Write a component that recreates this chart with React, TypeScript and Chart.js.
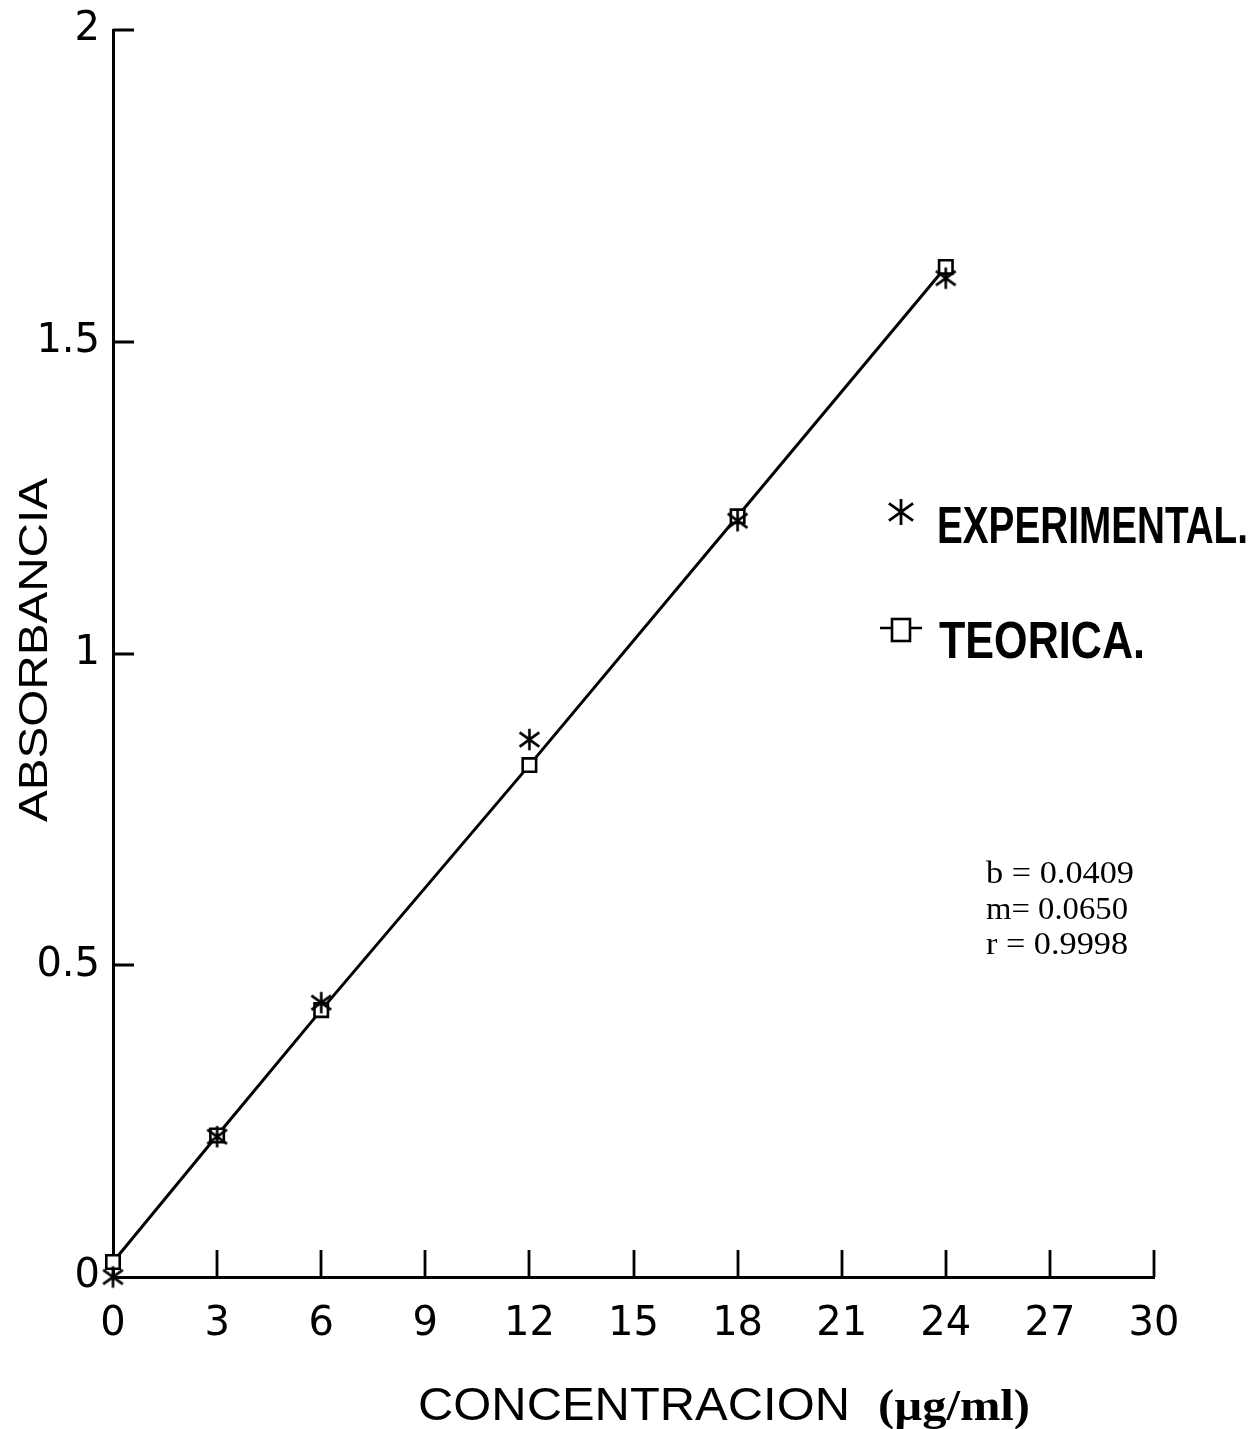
import { useEffect, useRef } from "react";
import { Chart, registerables } from "chart.js";

Chart.register(...registerables);

// ---- data ----
const concentrations = [0, 3, 6, 12, 18, 24];
const experimental = [0, 0.225, 0.44, 0.862, 1.213, 1.602];
const teorica = [0.024, 0.227, 0.428, 0.821, 1.22, 1.62];
const xRange = [0, 30];
const xStep = 3;
const yRange = [0, 2];
const yStep = 0.5;
const legendLabels = ["EXPERIMENTAL.", "TEORICA."];
const regressionText = ["b = 0.0409", "m= 0.0650", "r = 0.9998"];
const xTitleMain = "CONCENTRACION";
const xTitleUnit = "(µg/ml)";
const yTitle = "ABSORBANCIA";

function makeAsterisk(size: number, lw: number): HTMLCanvasElement {
  const c = document.createElement("canvas");
  c.width = size;
  c.height = size;
  const ctx = c.getContext("2d")!;
  ctx.strokeStyle = "#000";
  ctx.lineWidth = lw;
  const m = lw / 2 + 0.5;
  const h = size / 2;
  ctx.beginPath();
  ctx.moveTo(h, m);
  ctx.lineTo(h, size - m);
  const d = (h - m) * 0.92;
  ctx.moveTo(h - d, h - d * 0.72);
  ctx.lineTo(h + d, h + d * 0.72);
  ctx.moveTo(h + d, h - d * 0.72);
  ctx.lineTo(h - d, h + d * 0.72);
  ctx.stroke();
  return c;
}

function fitText(
  ctx: CanvasRenderingContext2D,
  text: string,
  x: number,
  y: number,
  font: string,
  width: number
) {
  ctx.save();
  ctx.font = font;
  ctx.textAlign = "left";
  ctx.textBaseline = "alphabetic";
  const w = ctx.measureText(text).width;
  ctx.translate(x, y);
  ctx.scale(width / w, 1);
  ctx.fillStyle = "#000";
  ctx.fillText(text, 0, 0);
  ctx.restore();
}

const decorPlugin = {
  id: "decor",
  afterDraw(chart: any) {
    const ctx: CanvasRenderingContext2D = chart.ctx;
    const { left, bottom } = chart.chartArea;
    const xs = chart.scales.x;
    const ys = chart.scales.y;
    ctx.save();
    ctx.strokeStyle = "#000";
    ctx.lineWidth = 2.8;
    ctx.beginPath();
    // inward ticks
    for (let v = xRange[0] + xStep; v <= xRange[1] + 1e-9; v += xStep) {
      const px = Math.round(xs.getPixelForValue(v));
      ctx.moveTo(px, bottom);
      ctx.lineTo(px, bottom - 27);
    }
    for (let v = yRange[0] + yStep; v <= yRange[1] + 1e-9; v += yStep) {
      const py = Math.round(ys.getPixelForValue(v));
      ctx.moveTo(left, py);
      ctx.lineTo(left + 21, py);
    }
    ctx.stroke();

    // legend
    const star = makeAsterisk(30, 2.8);
    ctx.drawImage(star, 901 - 15, 512 - 15);
    fitText(ctx, legendLabels[0], 937, 543, "bold 51px 'Liberation Sans', Arial, sans-serif", 311);
    ctx.lineWidth = 2.6;
    ctx.beginPath();
    ctx.moveTo(880, 628);
    ctx.lineTo(922, 628);
    ctx.stroke();
    ctx.fillStyle = "#fff";
    ctx.fillRect(892, 619, 18, 22);
    ctx.strokeRect(892, 619, 18, 22);
    fitText(ctx, legendLabels[1], 939, 658, "bold 51px 'Liberation Sans', Arial, sans-serif", 206);

    // regression text
    const serif = "31px 'Liberation Serif', 'Times New Roman', serif";
    fitText(ctx, regressionText[0], 986, 883, serif, 148);
    fitText(ctx, regressionText[1], 986, 919, serif, 142);
    fitText(ctx, regressionText[2], 986, 954, serif, 142);

    // x title
    fitText(ctx, xTitleMain, 418, 1420, "47px 'Liberation Sans', Arial, sans-serif", 432);
    fitText(ctx, xTitleUnit, 878, 1420, "bold 45px 'Liberation Serif', 'Times New Roman', serif", 152);

    // y title
    ctx.save();
    ctx.font = "41px 'Liberation Sans', Arial, sans-serif";
    const w = ctx.measureText(yTitle).width;
    ctx.translate(36, 650);
    ctx.rotate(-Math.PI / 2);
    ctx.scale(344 / w, 1);
    ctx.textAlign = "center";
    ctx.textBaseline = "middle";
    ctx.fillStyle = "#000";
    ctx.fillText(yTitle, 0, 0);
    ctx.restore();

    ctx.restore();
  },
};

export default function App() {
  const ref = useRef<HTMLCanvasElement | null>(null);

  useEffect(() => {
    document.body.style.margin = "0";
    const canvas = ref.current!;
    const asterisk = makeAsterisk(25, 2.6);
    const chart = new Chart(canvas, {
      type: "scatter",
      data: {
        datasets: [
          {
            label: legendLabels[0],
            data: concentrations.map((x, i) => ({ x, y: experimental[i] })),
            pointStyle: asterisk as any,
            pointRadius: 12,
            showLine: false,
            borderColor: "#000",
            backgroundColor: "#000",
            clip: false as any,
            order: 0,
          },
          {
            label: legendLabels[1],
            data: concentrations.map((x, i) => ({ x, y: teorica[i] })),
            pointStyle: "rect",
            pointRadius: 9.5,
            pointBorderWidth: 2.6,
            pointBorderColor: "#000",
            pointBackgroundColor: "#fff",
            showLine: true,
            borderColor: "#000",
            borderWidth: 3,
            backgroundColor: "#fff",
            clip: false as any,
            order: 1,
          },
        ],
      },
      options: {
        animation: false,
        responsive: false,
        devicePixelRatio: 1,
        layout: { padding: { top: 30, right: 101, left: 0, bottom: 0 } },
        plugins: {
          legend: { display: false },
          tooltip: { enabled: false },
        },
        scales: {
          x: {
            type: "linear",
            min: xRange[0],
            max: xRange[1],
            ticks: {
              stepSize: xStep,
              color: "#000",
              padding: 24,
              maxRotation: 0,
              font: { family: "'DejaVu Sans', sans-serif", size: 40 },
              callback: (v: any) => String(v),
            },
            grid: { drawOnChartArea: false, drawTicks: false, tickLength: 0 },
            border: { display: true, color: "#000", width: 3 },
            afterFit: (s: any) => {
              s.height = 152;
              s.paddingLeft = 0;
              s.paddingRight = 0;
            },
          },
          y: {
            type: "linear",
            min: yRange[0],
            max: yRange[1],
            ticks: {
              stepSize: yStep,
              color: "#000",
              padding: 13,
              font: { family: "'DejaVu Sans', sans-serif", size: 40 },
              callback: (v: any) => String(v),
            },
            grid: { drawOnChartArea: false, drawTicks: false, tickLength: 0 },
            border: { display: true, color: "#000", width: 3 },
            afterFit: (s: any) => {
              s.width = 113;
              s.paddingTop = 0;
              s.paddingBottom = 0;
            },
          },
        },
      },
      plugins: [decorPlugin],
    });
    return () => chart.destroy();
  }, []);

  return (
    <div style={{ width: 1255, height: 1429, background: "#fff" }}>
      <canvas ref={ref} width={1255} height={1429} />
    </div>
  );
}
